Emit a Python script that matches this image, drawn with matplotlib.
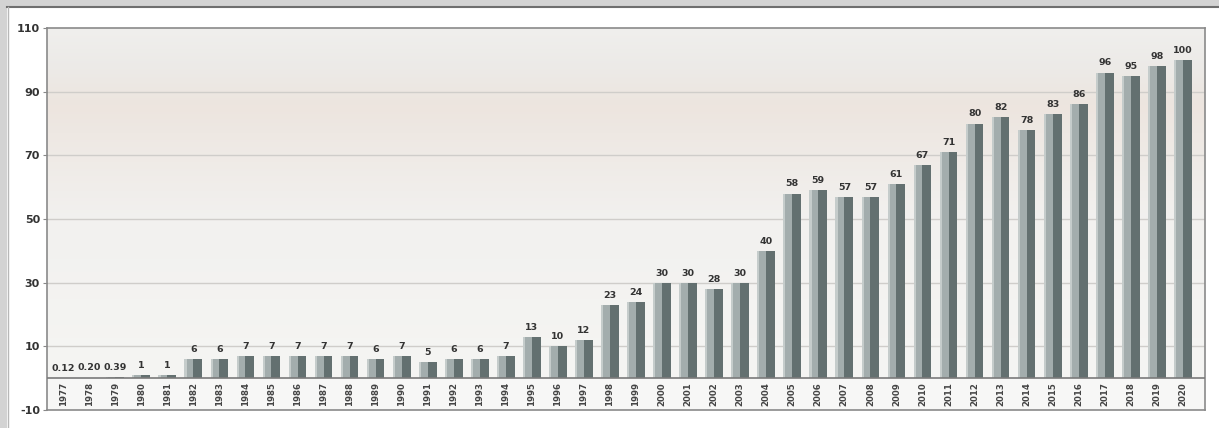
import matplotlib
matplotlib.use("Agg")
import matplotlib.pyplot as plt
import numpy as np
from matplotlib.patches import Rectangle
from matplotlib.colors import LinearSegmentedColormap

years = [str(y) for y in range(1977, 2021)]
values = [0.12, 0.20, 0.39, 1, 1, 6, 6, 7, 7, 7, 7, 7, 6, 7, 5, 6, 6, 7, 13, 10, 12,
          23, 24, 30, 30, 28, 30, 40, 58, 59, 57, 57, 61, 67, 71, 80, 82, 78, 83, 86,
          96, 95, 98, 100]
labels = ["0.12", "0.20", "0.39", "1", "1", "6", "6", "7", "7", "7", "7", "7", "6", "7",
          "5", "6", "6", "7", "13", "10", "12", "23", "24", "30", "30", "28", "30", "40",
          "58", "59", "57", "57", "61", "67", "71", "80", "82", "78", "83", "86", "96",
          "95", "98", "100"]
yticks = [-10, 10, 30, 50, 70, 90, 110]

W, H = 1219, 428
fig = plt.figure(figsize=(W / 100, H / 100), dpi=100)
fig.patch.set_facecolor("white")

# outer frame bands
fig.patches.append(Rectangle((0, 0), 7 / W, 1, transform=fig.transFigure,
                             facecolor="#d3d3d3", edgecolor="none", zorder=0))
fig.patches.append(Rectangle((0, 1 - 6 / H), 1, 6 / H, transform=fig.transFigure,
                             facecolor="#d3d3d3", edgecolor="none", zorder=0))
fig.lines.append(plt.Line2D([7 / W, 1], [1 - 6.5 / H, 1 - 6.5 / H], transform=fig.transFigure,
                            color="#6e6e6e", lw=1.5))
fig.lines.append(plt.Line2D([7.5 / W, 7.5 / W], [0, 1 - 6.5 / H], transform=fig.transFigure,
                            color="#b8b8b8", lw=1.0))

left, right, top, bottom = 47, 1205, 28, 410
ax = fig.add_axes([left / W, 1 - bottom / H, (right - left) / W, (bottom - top) / H])

n = len(values)
x = np.arange(n)
ax.set_xlim(-0.62, n - 1 + 0.85)
ax.set_ylim(-10, 110)

# background gradient (from y=0 to 110)
grad_cmap = LinearSegmentedColormap.from_list("bg", [
    (0.0, "#f5f5f3"),
    (0.45, "#f2f1ef"),
    (0.70, "#eee8e3"),
    (0.78, "#ede5df"),
    (0.88, "#eceae7"),
    (1.0, "#f0efed"),
])
grad = np.linspace(0, 1, 256).reshape(-1, 1)
ax.imshow(grad, cmap=grad_cmap, aspect="auto", origin="lower",
          extent=(-0.62, n - 1 + 0.85, 0, 110), zorder=0)
ax.axhspan(-10, 0, color="#f7f7f6", zorder=0)

for g in [10, 30, 50, 70, 90]:
    ax.axhline(g, color="#cfcdca", lw=1.0, zorder=1)
ax.axhline(0, color="#7a7a7a", lw=1.2, zorder=3)

bw = 0.68
ax.bar(x - bw / 4, values, width=bw / 2, color="#a3adad", edgecolor="none", zorder=2)
ax.bar(x + bw / 4, values, width=bw / 2, color="#637070", edgecolor="none", zorder=2)
ax.bar(x - bw / 2 + 0.04, values, width=0.08, color="#c5cccb", edgecolor="none", zorder=2)

for xi, v, lab in zip(x, values, labels):
    ax.text(xi, v + 1.6, lab, ha="center", va="bottom", fontsize=6.8,
            color="#333333", fontweight="bold", zorder=4)

for xi, yr in zip(x, years):
    ax.text(xi, -5, yr, rotation=90, ha="center", va="center", fontsize=6.2,
            color="#444444", fontweight="bold", zorder=4)

ax.set_xticks([])
ax.set_yticks(yticks)
ax.set_yticklabels([str(t) for t in yticks], fontsize=8, color="#333333", fontweight="bold")
ax.tick_params(axis="y", length=3, color="#888888", pad=2)
for s in ax.spines.values():
    s.set_color("#8a8a8a")
    s.set_linewidth(1.2)

fig.savefig("out.png", dpi=100)
